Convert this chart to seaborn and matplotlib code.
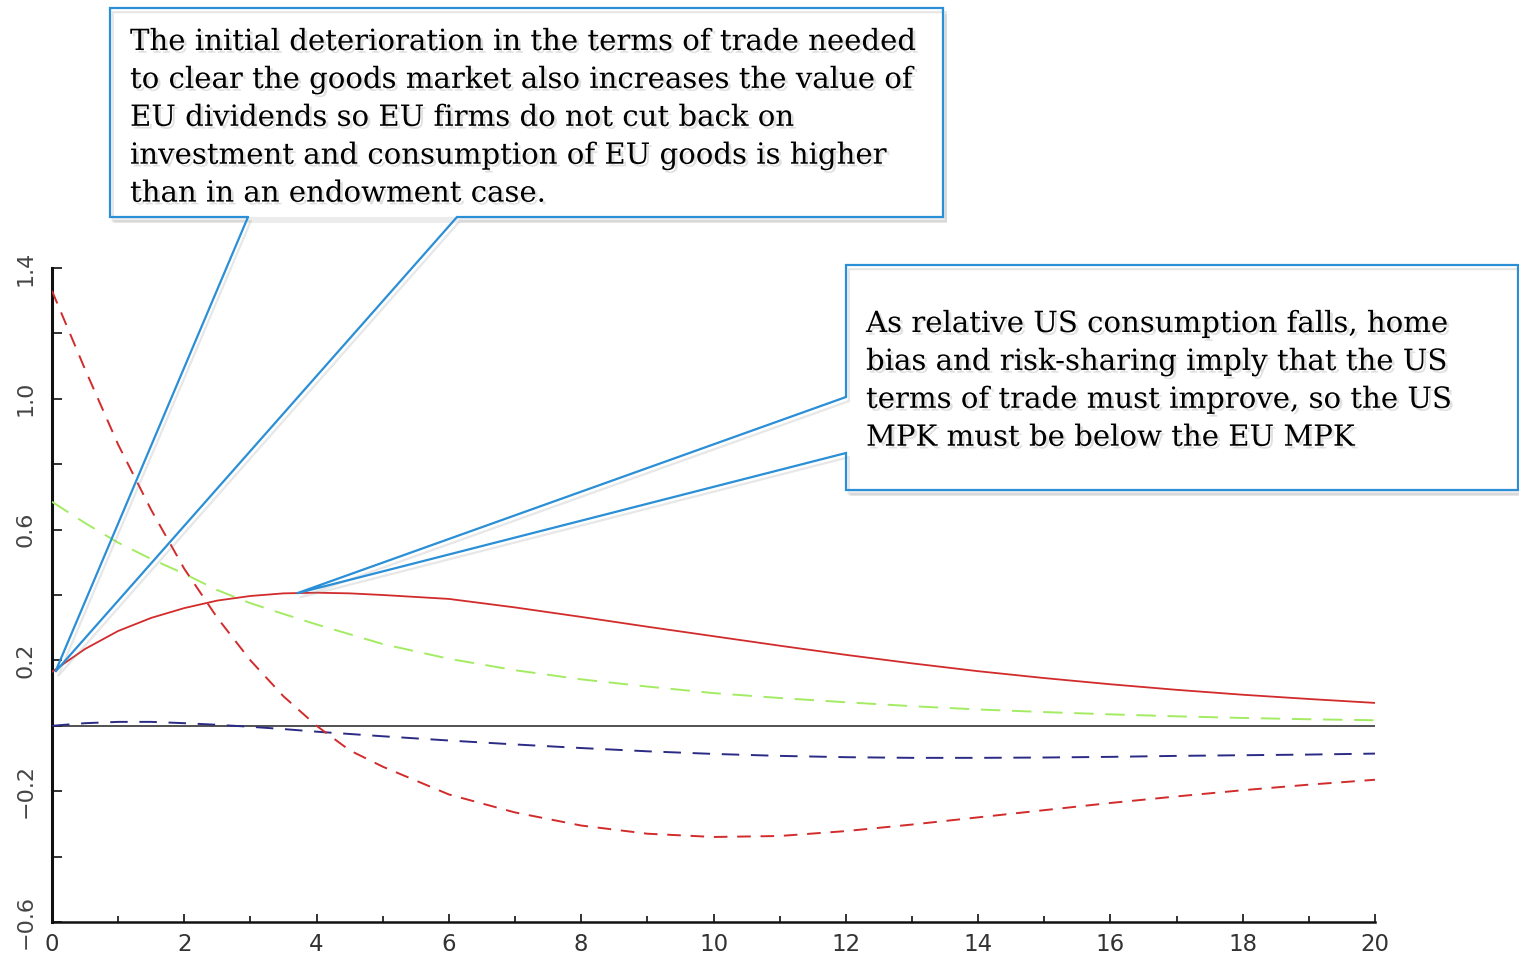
import numpy as np
import pandas as pd
import matplotlib
matplotlib.use("Agg")
import matplotlib.pyplot as plt
import matplotlib.patheffects as pe
from matplotlib.patches import Rectangle
from matplotlib.lines import Line2D
from matplotlib.ticker import FixedLocator
import seaborn as sns

# ---- impulse responses (quarters after shock) ----
periods = [0, 0.5, 1, 1.5, 2, 2.5, 3, 3.5, 4, 4.5, 5,
           6, 7, 8, 9, 10, 11, 12, 13, 14, 15, 16, 17, 18, 19, 20]
irf_red = [0.165, 0.235, 0.29, 0.33, 0.36, 0.383, 0.397, 0.405, 0.407, 0.405, 0.400,
           0.388, 0.362, 0.333, 0.303, 0.274, 0.245, 0.217, 0.191, 0.167, 0.146,
           0.127, 0.110, 0.095, 0.082, 0.070]
irf_red_dashed = [1.33, 1.09, 0.86, 0.66, 0.48, 0.33, 0.20, 0.09, 0.0, -0.075, -0.125,
                  -0.210, -0.265, -0.305, -0.330, -0.340, -0.337, -0.322, -0.302, -0.280,
                  -0.258, -0.236, -0.216, -0.197, -0.180, -0.165]
irf_green = [0.685, 0.62, 0.56, 0.51, 0.465, 0.415, 0.375, 0.342, 0.31, 0.28, 0.25,
             0.205, 0.170, 0.142, 0.120, 0.100, 0.085, 0.072, 0.060, 0.050, 0.042,
             0.035, 0.029, 0.024, 0.020, 0.017]
irf_navy = [0.0, 0.008, 0.012, 0.012, 0.008, 0.003, -0.003, -0.010, -0.018, -0.025, -0.032,
            -0.045, -0.057, -0.068, -0.078, -0.086, -0.092, -0.096, -0.098, -0.098,
            -0.097, -0.095, -0.092, -0.090, -0.088, -0.085]

x_major = [0, 2, 4, 6, 8, 10, 12, 14, 16, 18, 20]
x_minor = [1, 3, 5, 7, 9, 11, 13, 15, 17, 19]
y_major = [1.4, 1.0, 0.6, 0.2, -0.2, -0.6]
y_minor = [1.2, 0.8, 0.4, 0.0, -0.4]
y_labels = ["1.4", "1.0", "0.6", "0.2", "\u22120.2", "\u22120.6"]

note_left = ("The initial deterioration in the terms of trade needed\n"
             "to clear the goods market also increases the value of\n"
             "EU dividends so EU firms do not cut back on\n"
             "investment and consumption of EU goods is higher\n"
             "than in an endowment case.")
note_right = ("As relative US consumption falls, home\n"
              "bias and risk-sharing imply that the US\n"
              "terms of trade must improve, so the US\n"
              "MPK must be below the EU MPK")

W, H = 1519, 956
sns.set_style("ticks")
fig = plt.figure(figsize=(W / 100, H / 100), dpi=100)
fig.patch.set_facecolor("white")
ax = fig.add_axes([52 / W, 1 - 922 / H, (1375 - 52) / W, (922 - 268) / H])

df = pd.DataFrame({"t": periods, "red": irf_red, "red_d": irf_red_dashed,
                   "green": irf_green, "navy": irf_navy})

ax.hlines(0, periods[0], periods[-1], color="#222222", lw=1.1, zorder=2)
sns.lineplot(data=df, x="t", y="navy", ax=ax, color="#2b2b85", lw=1.4, zorder=3)
ax.lines[-1].set_dashes([9, 6])
sns.lineplot(data=df, x="t", y="green", ax=ax, color="#a3ec62", lw=1.4, zorder=3)
ax.lines[-1].set_dashes([10, 6])
sns.lineplot(data=df, x="t", y="red_d", ax=ax, color="#d22b2b", lw=1.4, zorder=3)
ax.lines[-1].set_dashes([7, 5])
sns.lineplot(data=df, x="t", y="red", ax=ax, color="#d22b2b", lw=1.3, zorder=3)

ax.set_xlim(0, 20)
ax.set_ylim(-0.6, 1.4)
ax.set_xlabel("")
ax.set_ylabel("")
sns.despine(ax=ax)
for side in ("left", "bottom"):
    ax.spines[side].set_color("#111111")
ax.spines["left"].set_linewidth(2.2)
ax.spines["bottom"].set_linewidth(1.8)

ax.xaxis.set_major_locator(FixedLocator(x_major))
ax.xaxis.set_minor_locator(FixedLocator(x_minor))
ax.yaxis.set_major_locator(FixedLocator(y_major))
ax.yaxis.set_minor_locator(FixedLocator(y_minor))
ax.set_xticklabels([str(v) for v in x_major])
ax.set_yticklabels(y_labels, rotation=90, va="center")
ax.tick_params(axis="x", which="major", bottom=True, direction="in", length=6,
               width=1.2, pad=8, labelsize=16.5, labelcolor="#333333", color="#111111")
ax.tick_params(axis="x", which="minor", bottom=True, direction="in", length=4,
               width=1.2, color="#111111")
ax.tick_params(axis="y", which="both", left=True, direction="in", length=7,
               width=1.2, pad=12, labelsize=16, labelcolor="#444444", color="#111111")
for lbl in ax.get_xticklabels():
    lbl.set_fontstretch("expanded")


def fpx(x, y):
    return (x / W, 1 - y / H)


def to_fig(xd, yd):
    disp = ax.transData.transform((xd, yd))
    return tuple(fig.transFigure.inverted().transform(disp))


blue = "#2a8fd6"
line_shadow = [pe.SimpleLineShadow(offset=(2, -3), shadow_color="#888888", alpha=0.2),
               pe.Normal()]
text_shadow = [pe.withSimplePatchShadow(offset=(2, -2), shadow_rgbFace="#999999",
                                        alpha=0.3)]
box_shadow = [pe.withSimplePatchShadow(offset=(3, -4), shadow_rgbFace="#999999",
                                       alpha=0.18)]

# left callout box with wedge to the start of the solid red response
tip1 = to_fig(periods[0] + 0.05, irf_red[0])
fig.patches.append(Rectangle(fpx(110, 217), (943 - 110) / W, (217 - 8) / H,
                             transform=fig.transFigure, facecolor="white",
                             edgecolor="none", zorder=4, path_effects=box_shadow))
outline1 = [fpx(248, 217), fpx(110, 217), fpx(110, 8), fpx(943, 8), fpx(943, 217),
            fpx(457, 217), tip1, fpx(248, 217)]
xs, ys = zip(*outline1)
fig.lines.append(Line2D(xs, ys, transform=fig.transFigure, color=blue, lw=1.6,
                        zorder=6, solid_joinstyle="miter", path_effects=line_shadow))
fig.text(130 / W, 1 - 28 / H, note_left, family="DejaVu Serif", fontsize=21,
         va="top", ha="left", linespacing=1.45, color="black", zorder=7,
         path_effects=text_shadow)

# right callout box with wedge to the peak of the solid red response
tip2 = to_fig(3.7, 0.405)
fig.patches.append(Rectangle(fpx(846, 490), (1518 - 846) / W, (490 - 265) / H,
                             transform=fig.transFigure, facecolor="white",
                             edgecolor="none", zorder=4, path_effects=box_shadow))
outline2 = [fpx(846, 397), fpx(846, 265), fpx(1518, 265), fpx(1518, 490), fpx(846, 490),
            fpx(846, 453), tip2, fpx(846, 397)]
xs, ys = zip(*outline2)
fig.lines.append(Line2D(xs, ys, transform=fig.transFigure, color=blue, lw=1.6,
                        zorder=6, solid_joinstyle="miter", path_effects=line_shadow))
fig.text(866 / W, 1 - 310 / H, note_right, family="DejaVu Serif", fontsize=21,
         va="top", ha="left", linespacing=1.45, color="black", zorder=7,
         path_effects=text_shadow)

fig.savefig("out.png", dpi=100)
